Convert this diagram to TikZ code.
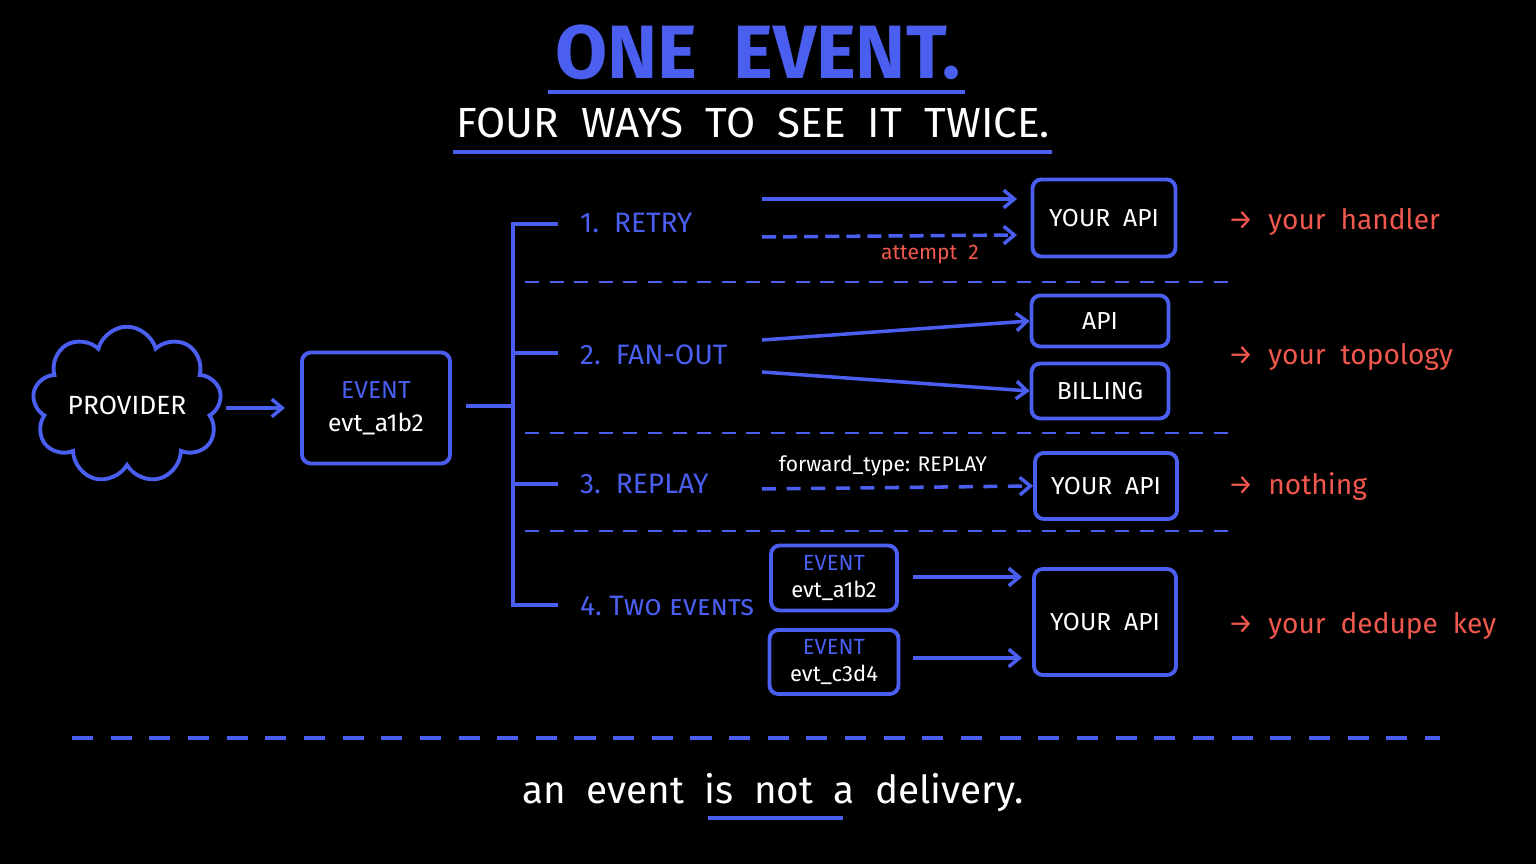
\documentclass[tikz,border=0pt]{standalone}
\usepackage{fontspec}
\setmainfont{Fira Sans}
\usetikzlibrary{shapes.symbols,arrows.meta}
\definecolor{bl}{HTML}{4A5FF0}
\definecolor{rd}{HTML}{F0584E}
\begin{document}
\begin{tikzpicture}[x=0.02cm,y=-0.02cm,
 box/.style={draw=bl,line width=2.2pt,rounded corners=5pt,text=white,font=\fontsize{14}{17}\selectfont,align=center,inner sep=0pt},
 lbl/.style={text=bl,font=\fontsize{16}{19}\selectfont,anchor=west},
 res/.style={text=rd,font=\fontsize{16}{19}\selectfont,anchor=west},
 arr/.style={draw=bl,line width=2pt,-{Straight Barb[length=6pt,width=10pt]}},
 ln/.style={draw=bl,line width=2pt},
 sep/.style={draw=bl,line width=1pt,dash pattern=on 8pt off 6pt}]
\useasboundingbox (0,0) rectangle (1536,864);
\fill[black] (0,0) rectangle (1536,864);
\node[text=bl,font=\fontsize{43}{48}\selectfont\bfseries] (t) at (758,52) {ONE\ \ EVENT.};
\draw[ln] (548,92) -- (965,92);
\node[text=white,font=\fontsize{24}{28}\selectfont] (st) at (753,123) {FOUR\ \ WAYS\ \ TO\ \ SEE\ \ IT\ \ TWICE.};
\draw[ln] (453,152) -- (1052,152);
% provider
\node[cloud,cloud puffs=9,aspect=1.4,draw=bl,line width=2.2pt,text=white,font=\fontsize{15}{18}\selectfont,minimum width=2.3cm,minimum height=1.55cm,inner sep=0pt] (prov) at (127,405) {PROVIDER};
\node[box,minimum width=2.96cm,minimum height=2.22cm] (ev) at (376,408) {\textcolor{bl}{EVENT}\\[2pt]evt\_a1b2};
\coordinate (pa) at (226,408); \coordinate (pb) at (285,408);
\draw[arr] (pa) -- (pb);
\coordinate (j) at (513,406);
\draw[ln] (466,406) -- (j);
\draw[ln] (558,224) -- (513,224) -- (513,605) -- (558,605);
\foreach \y in {353,484} \draw[ln] (513,\y) -- (558,\y);
\node[lbl] (l1) at (574,223) {1.\ \ RETRY};
\node[lbl] (l2) at (574,355) {2.\ \ FAN-OUT};
\node[lbl] (l3) at (574,484) {3.\ \ REPLAY};
\node[lbl] (l4) at (574,606) {4.\ \textsc{Two events}};
% retry
\node[box,minimum width=2.86cm,minimum height=1.54cm] (a1) at (1104,218) {YOUR\ \ API};
\coordinate (r1) at (762,199); \coordinate (r2) at (762,237);
\draw[arr] (r1) -- (1017,199);
\draw[arr,dash pattern=on 8pt off 4pt] (r2) -- (1017,235);
\node[text=rd,font=\fontsize{12}{14}\selectfont] (att) at (930,255) {attempt\ \ 2};
\node[res] (h1) at (1222,222) {→\ \ your\ \ handler};
\foreach \y in {282,433,531} \draw[sep] (525,\y) -- (1235,\y);
% fanout
\node[box,minimum width=2.74cm,minimum height=1.02cm] (api) at (1100,321) {API};
\node[box,minimum width=2.74cm,minimum height=1.1cm] (bill) at (1100,391) {BILLING};
\coordinate (f1) at (762,340); \coordinate (f2) at (762,372);
\draw[arr] (f1) -- (api.west);
\draw[arr] (f2) -- (bill.west);
\node[res] (h2) at (1222,357) {→\ \ your\ \ topology};
% replay
\node[box,minimum width=2.84cm,minimum height=1.32cm] (a3) at (1106,486) {YOUR\ \ API};
\node[text=white,font=\fontsize{12}{14}\selectfont] (fw) at (883,466) {forward\_type: REPLAY};
\coordinate (rp) at (762,489);
\draw[arr,dash pattern=on 8pt off 6pt] (rp) -- (a3.west);
\node[res] (h3) at (1222,487) {→\ \ nothing};
% two events
\node[box,minimum width=2.52cm,minimum height=1.3cm,font=\fontsize{12.5}{15}\selectfont] (e1) at (834,578) {\textcolor{bl}{EVENT}\\evt\_a1b2};
\node[box,minimum width=2.58cm,minimum height=1.28cm,font=\fontsize{12.5}{15}\selectfont] (e2) at (834,662) {\textcolor{bl}{EVENT}\\evt\_c3d4};
\node[box,minimum width=2.84cm,minimum height=2.12cm] (a4) at (1105,622) {YOUR\ \ API};
\draw[arr] (913,577) -- (1022,577);
\draw[arr] (913,658) -- (1022,658);
\node[res] (h4) at (1222,626) {→\ \ your\ \ dedupe\ \ key};
% bottom
\draw[draw=bl,line width=2pt,dash pattern=on 12pt off 10pt] (72,738) -- (1440,738);
\node[text=white,font=\fontsize{22}{26}\selectfont] (bt) at (773,793) {an\ \ event\ \ is\ \ not\ \ a\ \ delivery.};
\draw[ln] (708,818) -- (843,818);
\end{tikzpicture}
\end{document}
